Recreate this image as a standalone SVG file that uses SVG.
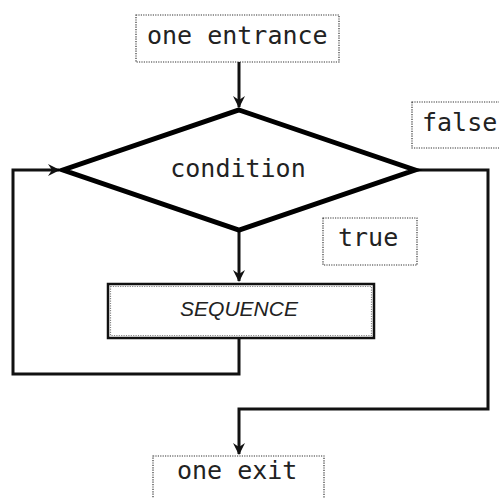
<svg xmlns="http://www.w3.org/2000/svg" width="499" height="498" viewBox="0 0 499 498">
  <style>
    .label { font-family: "DejaVu Sans Mono", "Liberation Mono", monospace; font-size: 25px; fill: #222; }
    .tag { fill: #fff; stroke: #333; stroke-width: 1.2; stroke-dasharray: 1.2 1.2; }
    .line { fill: none; stroke: #111; stroke-width: 3; stroke-linejoin: miter; }
    .diamond { fill: #fff; stroke: #000; stroke-width: 5; stroke-linejoin: miter; }
  </style>
  <defs>
    <marker id="arrow" viewBox="0 0 12 12" refX="11" refY="6" markerWidth="12" markerHeight="12" markerUnits="userSpaceOnUse" orient="auto">
      <path d="M0,0 L12,6 L0,12 L4,6 Z" fill="#111"/>
    </marker>
  </defs>
  <rect width="499" height="498" fill="#fff"/>

  <g id="connectors">
    <!-- entrance into the test -->
    <line class="line" x1="239" y1="62" x2="239" y2="107" marker-end="url(#arrow)"/>
    <!-- true branch into the body -->
    <line class="line" x1="239" y1="230" x2="239" y2="281" marker-end="url(#arrow)"/>
    <!-- loop back from the body -->
    <polyline class="line" points="239,339 239,374 13,374 13,170 59,170" marker-end="url(#arrow)"/>
    <!-- false branch to the exit -->
    <polyline class="line" points="415,170 488,170 488,409 239,409 239,454" marker-end="url(#arrow)"/>
  </g>

  <g id="entrance">
    <rect class="tag" x="136" y="15" width="203" height="47"/>
    <text class="label" x="147" y="44">one entrance</text>
  </g>

  <g id="condition">
    <polygon class="diamond" points="239,110 415,170 239,230 63,170"/>
    <text class="label" x="238" y="177" text-anchor="middle">condition</text>
  </g>

  <g id="false-label">
    <rect class="tag" x="412" y="102" width="95" height="46"/>
    <text class="label" x="422" y="131">false</text>
  </g>

  <g id="true-label">
    <rect class="tag" x="323" y="218" width="94" height="47"/>
    <text class="label" x="338" y="246">true</text>
  </g>

  <g id="sequence">
    <rect x="108" y="284" width="266" height="54" fill="#fff" stroke="#111" stroke-width="2.5"/>
    <rect x="110.5" y="286.5" width="261" height="49" fill="none" stroke="#888" stroke-width="1.2" stroke-dasharray="1.2 1.2"/>
    <text x="239" y="316" text-anchor="middle" font-family="'Liberation Sans', Arial, sans-serif" font-style="italic" font-size="20" fill="#222" textLength="118" lengthAdjust="spacingAndGlyphs">SEQUENCE</text>
  </g>

  <g id="exit">
    <rect class="tag" x="153" y="456" width="171" height="50"/>
    <text class="label" x="177" y="479">one exit</text>
  </g>
</svg>
